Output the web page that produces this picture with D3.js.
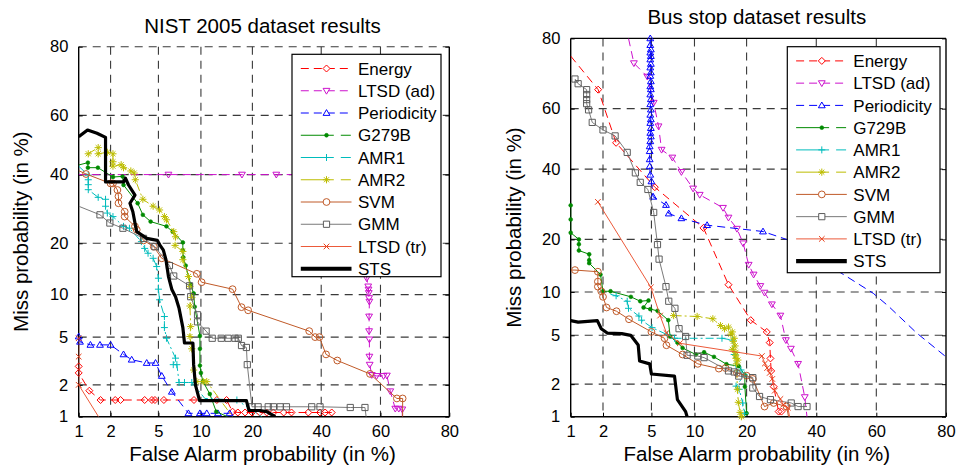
<!DOCTYPE html>
<html>
<head>
<meta charset="utf-8">
<script src="https://cdn.jsdelivr.net/npm/d3@7"></script>
<style>
  body { margin: 0; background: #fff; }
  svg { display: block; font-family: "Liberation Sans", Arial, Helvetica, sans-serif; }
</style>
</head>
<body>
<svg id="chart" width="959" height="468"></svg>
<script>
// ---- axis ticks (percent on a normal-deviate scale) ----
const tickPercents = [1, 2, 5, 10, 20, 40, 60, 80];
const tickLabels = ["1", "2", "5", "10", "20", "40", "60", "80"];

// ---- legend entries ----
const nistNames = ["Energy", "LTSD (ad)", "Periodicity", "G279B", "AMR1", "AMR2", "SVM", "GMM", "LTSD (tr)", "STS"];
const busNames  = ["Energy", "LTSD (ad)", "Periodicity", "G729B", "AMR1", "AMR2", "SVM", "GMM", "LTSD (tr)", "STS"];

// ---- NIST 2005 curves: [false alarm %, miss %, (0 = no marker)] ----
const nistEnergy = [[1,2.9],[1,2.55],[1.27,1.77],[1.62,1.45],[2.2,1.45],[2.45,1.45],[3.9,1.45],[4.45,1.45],[4.7,1.45],[5.5,1.45],[9,1.45],[12.6,1.45],[14.4,1.45],[15.6,1.12],[16.7,1.1],[18.3,1.1],[19.9,1.1],[21.8,1.1],[23.6,1.1],[25.4,1.1],[28.3,1.1],[30.6,1.1],[35.8,1.1],[39.6,1.1],[41.3,1.1],[43.5,1.1]];
const nistLtsdAd = [[1,40,0],[5.95,40],[17.6,40],[26.2,40],[45,40,0],[55,36,0],[55.3,14,0],[55.4,12.7],[55.9,11.3],[56,10.8],[56.1,10.25],[56.2,9.5],[56.3,9.0],[56.2,7.1],[56.2,5.55],[56.3,4.8],[56.3,3.5],[56.4,3.0],[57.1,2.45],[58.7,2.4],[61,2.4],[62.1,2.42],[63.2,1.75],[64.8,1.2],[65.9,1.2],[67,1.18],[67,1.0,0]];
const nistPeriodicity = [[1,5.05],[1.03,4.6],[1.3,4.35],[1.6,4.35],[2.0,4.35],[2.6,3.65],[3.05,3.3],[4.05,3.1],[4.75,3.1],[5.3,2.4],[6.3,1.73],[8.25,1.08],[9.85,1.08],[10.9,1.08],[12.8,1.08],[15,1.08]];
const nistG279B = [[1,43.2,0],[1.23,44],[1.23,42.3],[1.53,42.3],[2.1,39.2],[2.55,39.4],[2.6,36.6],[3.42,30.9],[3.77,27.5],[4.35,25.6],[5.75,24.3],[6.4,22.9],[7.55,20.2],[7.55,18.4],[7.6,16.8],[7.9,15.1],[8.55,11.6],[8.95,10.2],[9.1,8.3],[9.85,5.1],[9.85,4.05],[9.85,2.95],[10,2.55],[10.3,2.15],[11.4,1.65],[12.5,1.12],[14.6,1.0,0]];
const nistAmr1 = [[1,42.8,0],[1.24,39.8],[1.24,38.3],[1.24,36.7],[1.24,35.1],[1.54,32.7],[1.8,32.1],[1.8,30.0],[1.87,28.0],[2.1,27.0],[2.6,24.3],[2.92,23.8],[3.67,20.4],[3.9,18.8],[4.15,17.7],[4.55,16.6],[4.85,14.9],[5.0,12.7],[5.0,10.85],[5.1,9.25],[5.55,7.1],[5.55,5.9],[5.75,4.9],[6.7,3.4],[6.45,3.0],[6.85,3.0],[7.1,2.1],[7.75,2.1],[8.7,2.1],[10.6,1.5,0],[16.5,1.45],[22.3,1.0,0]];
const nistAmr2 = [[1.24,47.0],[1.54,49.1],[1.54,47.0],[1.87,47.5],[2.1,47.0],[2.1,44.3],[2.1,42.8],[2.48,43.3],[2.6,42.3],[3.0,41.2],[3.2,40.5],[3.27,38.3],[3.77,32.1],[4.55,30.0],[5.1,28.9],[5.55,27.0],[5.75,26.1],[6.5,22.9],[6.7,21.6],[6.65,19.5],[7.55,18.1],[7.55,16.3],[8.25,13.0],[8.45,11.3],[8.7,9.6],[8.45,8.4],[8.55,6.0],[8.45,5.05],[8.7,4.05],[8.95,2.7],[9.4,2.14],[10.35,2.14],[10.9,2.14],[15.6,1.0,0]];
const nistSvm = [[1,41.3,0],[1.18,40.2],[2.0,37.1],[2.1,37.1],[2.3,35.0],[2.35,33.0],[2.35,30.9],[2.66,28.4],[2.66,27.0],[3.25,24.3],[3.36,23.4],[3.82,20.7],[4.6,19.2],[5.3,16.6],[9.4,13.5],[10.1,12.0],[15.6,10.85],[17.5,8.25],[19.0,7.85],[36.1,5.55],[38.0,5.0],[39.4,5.0],[41.6,3.65],[45.4,3.25],[56.5,2.5],[65.3,1.5],[67.1,1.5],[67.1,1.0,0]];
const nistGmm = [[1,30.0,0],[1.6,27.5],[1.97,25.2],[2.57,23.8],[3.82,21.2],[4.7,19.2],[6.05,15.1],[6.5,13.1],[8.4,11.4],[8.55,9.7],[9.5,7.3],[9.5,6.5],[10.8,5.55],[11.8,4.9],[13.4,4.9],[14.7,4.9],[16.1,4.9],[16.8,4.9],[17.5,4.3],[18.6,4.15],[18.8,3.0],[19.9,1.25],[21.4,1.25],[24.0,1.25],[25.4,1.25],[27.3,1.25],[29.1,1.25],[36.9,1.25],[39.6,1.25],[49.8,1.23],[54.8,1.23],[55.2,1.0,0]];
const nistLtsdTr = [[1,4.9],[1,3.5],[1,2.0],[1.55,1.0,0]];
const nistSts = [[1,52.8],[1.22,55.1],[1.5,54],[1.8,52.6],[1.8,37.6],[2.6,37.6],[2.7,38.8],[2.87,36.6],[3.25,33.4],[2.95,30.9],[3.12,28.4],[3.25,25.2],[3.36,22.9],[4.05,21.2],[4.9,20.7],[5.15,19.5],[5.45,18.4],[5.7,16.3],[5.95,13.0],[6.3,10.8],[6.7,9.7],[7.1,8.1],[7.55,5.9],[7.75,4.5],[8.85,4.5],[8.95,3.0],[9.2,2.0],[9.8,1.43],[18.6,1.43],[19.2,1.15],[21.8,1.15],[23.6,1.12],[25.9,1.0]];

// ---- Bus stop curves ----
const busEnergy = [[1,75.6,0],[1.81,66.0],[2.6,48.7],[5.3,34.3],[11.4,22.8],[16.0,11.1],[21.0,6.45],[25.1,5.3],[25.9,4.4],[26.1,3.3],[26.3,2.6],[27.0,1.9],[28.4,1.12],[29.2,1.12]];
const busLtsdAd = [[3.3,80,0],[3.65,73.7],[4.65,69.9],[5.2,61.9],[5.65,54.2],[5.95,46.4],[7.1,43.8],[8.2,39.1],[9.8,33.9],[10.8,32.0],[14.9,28.2],[16.0,25.5],[17.8,22.6],[19.2,19.1],[20.5,14.6],[21.7,12.8],[23.4,10.9],[24.5,9.9],[26.5,8.3],[28.9,6.95],[30.5,4.6],[32.0,3.95],[34.2,2.98],[36.3,1.53],[37.0,1.0,0]];
const busPeriodicity = [[4.9,80],[4.9,78.4],[4.95,77.3],[4.9,76.5],[4.95,75.6],[4.9,74.7],[4.95,73.5],[4.9,72.5],[4.95,71.1],[4.9,70.1],[4.95,68.5],[4.9,67.0],[4.95,66.1],[4.9,64.5],[4.95,63.0],[4.9,61.4],[4.95,59.7],[4.9,58.0],[4.95,56.5],[4.9,55.3],[4.95,53.6],[4.9,52.0],[4.95,50.8],[4.9,49.2],[4.85,47.5],[4.85,45.9],[4.85,43.2],[4.85,40.9],[4.9,38.2],[5.0,36.1],[5.15,31.4],[6.4,29.0],[6.7,26.6],[8.2,25.3],[12.0,23.5],[24.1,21.9],[30.7,20.0,0],[50.0,12.5,0],[59.0,9.8,0],[63.8,8.1,0],[72.4,5.2,0],[80,3.4,0]];
const busG729B = [[1,28.9],[1,25.0],[1,21.6],[1.2,20.0],[1.2,18.9],[1.2,17.5],[1.5,16.7],[1.5,15.5],[1.5,14.9],[1.9,12.8],[2.0,10.1],[2.33,10.1],[3.45,9.3],[4.1,8.7],[4.75,8.8],[4.35,7.9],[4.9,7.7],[5.55,7.5],[6.65,6.45],[6.85,4.9],[7.7,4.4],[8.35,4.0],[10.2,3.55],[11.5,3.7],[13.2,3.4],[15.6,2.96],[18.2,2.85],[19.6,2.4],[19.6,1.9],[20,1.08]];
const busAmr1 = [[2.33,9.65,0],[2.6,9.45],[3.22,8.7],[3.3,7.8],[4.0,6.9],[4.2,6.45],[5.05,5.7],[6.55,5.05],[7.35,4.75],[14.7,4.75],[16.8,4.6],[17.2,3.55],[17.7,2.6],[18.7,2.65],[19.5,2.4],[17.6,1.92],[18.3,1.8],[19.1,1.35],[19.5,1.08],[19.6,1.0,0]];
const busAmr2 = [[7.25,6.95],[10.4,6.85],[13.0,6.6],[14.4,5.9],[15.2,5.6],[16.0,5.75],[16.5,5.1],[16.8,5.3],[17.2,4.75],[17.0,4.5],[17.4,4.15],[16.8,3.9],[17.6,3.7],[17.5,3.5],[17.6,3.3],[18.0,3.2],[17.7,2.98],[17.9,1.8],[18.1,1.37],[18.5,1.1],[18.8,1.0]];
const busSvm = [[1,13.6,0],[1.1,13.6],[1.8,13.3],[1.8,11.6],[1.8,10.8],[1.93,10.1],[2.0,9.3],[2.15,7.9],[2.62,7.45],[3.33,6.55],[5.0,5.3],[6.25,4.75],[6.45,4.2],[8.35,3.55],[10.5,2.98],[14.1,2.72],[15.4,2.75],[17.8,2.5],[20.0,2.37],[21.5,2.22],[24.5,1.25],[27.0,1.35],[30.7,1.25],[31.3,1.0,0]];
const busGmm = [[1.1,69.2],[1.18,67.8],[1.42,66.0],[1.42,64.5],[1.42,62.9],[1.42,61.6],[1.48,59.6],[1.6,55.5],[2.0,53.0],[2.55,51.0],[3.22,45.5],[3.75,38.8],[4.1,35.8],[4.7,33.6],[5.2,26.9],[5.55,18.8],[5.7,15.7],[6.4,10.8],[6.7,8.7],[7.4,7.8],[7.9,5.6],[8.75,4.9],[8.95,3.5],[10.5,3.45],[11.5,3.35],[16.0,2.6],[17.2,2.55],[18.2,2.35],[21.5,2.28],[21.5,1.85],[23.2,1.55],[26.1,1.45],[32.1,1.35],[34.2,1.25],[37.0,1.25]];
const busLtsdTr = [[1.8,29.9],[4.95,10.7],[5.8,6.95],[6.45,5.2],[8.0,4.35],[23.8,3.45],[24.6,3.0],[25.2,2.75],[25.9,2.5],[26.6,2.22],[27.3,1.75],[28.9,1.47],[29.7,1.3],[31.1,1.22],[31.6,1.0,0]];
const busSts = [[1,6.4],[1.18,6.25],[1.78,6.4],[1.93,5.6],[2.18,5.2],[2.9,5.15],[3.44,5.0],[3.95,4.22],[4.05,3.15],[4.85,2.98],[5.0,2.45],[7.35,2.35],[7.7,1.45],[8.3,1.25],[8.75,1.12],[8.95,1.0]];

// ---- drawing styles, one per legend entry ----
const styles = [
  { color: "#ff0000", marker: "diamond", dash: "8,5", legendDash: "8,5", width: 1 },
  { color: "#cc11cc", marker: "triDown", dash: "8,5", legendDash: "8,5", width: 1 },
  { color: "#0000ff", marker: "triUp",   dash: "8,5", legendDash: "8,5", width: 1 },
  { color: "#008a00", marker: "dot",     dash: null,  legendDash: "33,7,10,60", width: 1 },
  { color: "#00bcbc", marker: "plus",    dash: "8,3,2,3", legendDash: "33,7,10,60", width: 1 },
  { color: "#bdbd00", marker: "star",    dash: "8,3,2,3", legendDash: "33,7,10,60", width: 1 },
  { color: "#c05a28", marker: "circle",  dash: null,  legendDash: null, width: 1 },
  { color: "#5c5c5c", marker: "square",  dash: null,  legendDash: null, width: 1, line: "#7a7a7a" },
  { color: "#e8401c", marker: "cross",   dash: null,  legendDash: null, width: 1, line: "#ec5a3a" },
  { color: "#000000", marker: null,      dash: null,  legendDash: null, width: 3.2, legendWidth: 4.2 }
];

// inverse of the standard normal CDF (Acklam's rational approximation)
function probit(p) {
  const a = [-3.969683028665376e+01, 2.209460984245205e+02, -2.759285104469687e+02, 1.383577518672690e+02, -3.066479806614716e+01, 2.506628277459239e+00];
  const b = [-5.447609879822406e+01, 1.615858368580409e+02, -1.556989798598866e+02, 6.680131188771972e+01, -1.328068155288572e+01];
  const c = [-7.784894002430293e-03, -3.223964580411365e-01, -2.400758277161838e+00, -2.549732539343734e+00, 4.374664141464968e+00, 2.938163982698783e+00];
  const d = [7.784695709041462e-03, 3.224671290700398e-01, 2.445134137142996e+00, 3.754408661907416e+00];
  const pl = 0.02425, ph = 1 - pl;
  let q, r;
  if (p < pl) {
    q = Math.sqrt(-2 * Math.log(p));
    return (((((c[0]*q+c[1])*q+c[2])*q+c[3])*q+c[4])*q+c[5]) / ((((d[0]*q+d[1])*q+d[2])*q+d[3])*q+1);
  }
  if (p <= ph) {
    q = p - 0.5; r = q * q;
    return (((((a[0]*r+a[1])*r+a[2])*r+a[3])*r+a[4])*r+a[5])*q / (((((b[0]*r+b[1])*r+b[2])*r+b[3])*r+b[4])*r+1);
  }
  q = Math.sqrt(-2 * Math.log(1 - p));
  return -(((((c[0]*q+c[1])*q+c[2])*q+c[3])*q+c[4])*q+c[5]) / ((((d[0]*q+d[1])*q+d[2])*q+d[3])*q+1);
}

// marker shapes, centred on the origin
const markerPaths = {
  diamond: r => `M0,${-r}L${r},0L0,${r}L${-r},0Z`,
  triDown: r => `M${-r},${-r*0.7}L${r},${-r*0.7}L0,${r}Z`,
  triUp:   r => `M${-r},${r*0.7}L${r},${r*0.7}L0,${-r}Z`,
  circle:  r => `M${r},0A${r},${r} 0 1 1 ${-r},0A${r},${r} 0 1 1 ${r},0Z`,
  square:  r => `M${-r},${-r}H${r}V${r}H${-r}Z`,
  plus:    r => `M${-r},0H${r}M0,${-r}V${r}`,
  star:    r => { const k = r * 0.7; return `M${-r},0H${r}M0,${-r}V${r}M${-k},${-k}L${k},${k}M${k},${-k}L${-k},${k}`; },
  cross:   r => `M${-r},${-r}L${r},${r}M${r},${-r}L${-r},${r}`,
  dot:     r => `M${r},0A${r},${r} 0 1 1 ${-r},0A${r},${r} 0 1 1 ${r},0Z`
};
const markerSize = { diamond: 3.5, triDown: 3.4, triUp: 3.4, circle: 3.4, square: 3.1, plus: 3.5, star: 3.6, cross: 2.8, dot: 1.9 };

const panels = [
  {
    id: "nist", title: "NIST 2005 dataset results", names: nistNames,
    series: [nistEnergy, nistLtsdAd, nistPeriodicity, nistG279B, nistAmr1, nistAmr2, nistSvm, nistGmm, nistLtsdTr, nistSts],
    x0: 78.7, x1: 449.3, top: 46.7, bottom: 416.7, fullBox: false,
    titleY: 32.7, labelX: 28.2,
    legend: { x: 292, y: 54.3, w: 149, h: 222.4 }
  },
  {
    id: "bus", title: "Bus stop dataset results", names: busNames,
    series: [busEnergy, busLtsdAd, busPeriodicity, busG729B, busAmr1, busAmr2, busSvm, busGmm, busLtsdTr, busSts],
    x0: 570.7, x1: 946, top: 38.4, bottom: 416.7, fullBox: true,
    titleY: 24.3, labelX: 521,
    legend: { x: 787.3, y: 46.7, w: 152.7, h: 226 }
  }
];

const svg = d3.select("#chart");
const zLo = probit(0.01), zHi = probit(0.80);
const tickZ = tickPercents.map(p => probit(p / 100));

panels.forEach(P => {
  const xs = d3.scaleLinear().domain([zLo, zHi]).range([P.x0, P.x1]);
  const ys = d3.scaleLinear().domain([zLo, zHi]).range([P.bottom, P.top]);
  const X = v => xs(probit(v / 100));
  const Y = v => ys(probit(v / 100));
  const g = svg.append("g");
  const cx = (P.x0 + P.x1) / 2 - 1.5, cy = (P.top + P.bottom) / 2;

  // clip regions: lines stop at the frame, markers may overhang slightly
  const defs = svg.append("defs");
  defs.append("clipPath").attr("id", P.id + "-clip")
    .append("rect").attr("x", P.x0).attr("y", P.top).attr("width", P.x1 - P.x0).attr("height", P.bottom - P.top);
  defs.append("clipPath").attr("id", P.id + "-mclip")
    .append("rect").attr("x", P.x0 - 6).attr("y", P.top - 6).attr("width", P.x1 - P.x0 + 12).attr("height", P.bottom - P.top + 12);

  // dashed grid
  const inner = tickZ.filter((z, i) => i > 0 && i < tickZ.length - 1);
  const grid = g.append("g").attr("stroke", "#3a3a3a").attr("stroke-width", 1.1).attr("stroke-dasharray", "8,6");
  grid.selectAll("line.v").data(inner).join("line").attr("class", "v")
    .attr("x1", d => xs(d)).attr("x2", d => xs(d)).attr("y1", P.top).attr("y2", P.bottom);
  const hLines = P.fullBox ? inner : inner.concat([zHi]);
  grid.selectAll("line.h").data(hLines).join("line").attr("class", "h")
    .attr("y1", d => ys(d)).attr("y2", d => ys(d)).attr("x1", P.x0).attr("x2", P.x1);

  // axes
  const fmt = (d, i) => tickLabels[i];
  const xAxis = g.append("g").attr("transform", `translate(0,${P.bottom})`)
    .call(d3.axisBottom(xs).tickValues(tickZ).tickFormat(fmt).tickSizeInner(-4).tickSizeOuter(0).tickPadding(8.6));
  const yAxis = g.append("g").attr("transform", `translate(${P.x0},0)`)
    .call(d3.axisLeft(ys).tickValues(tickZ).tickFormat(fmt).tickSizeInner(-4).tickSizeOuter(0).tickPadding(10.4));
  g.append("g").attr("transform", `translate(${P.x1},0)`)
    .call(d3.axisRight(ys).tickValues(tickZ).tickFormat("").tickSizeInner(-4).tickSizeOuter(0));
  [xAxis, yAxis].forEach(a => {
    a.select(".domain").remove();
    a.selectAll("text").attr("font-size", null).style("font-size", "16.5px").attr("fill", "#000")
      .style("font-family", "'Liberation Sans', Arial, sans-serif");
    a.selectAll("line").attr("stroke", "#000");
  });
  g.selectAll(".domain").remove();

  // frame
  const frame = g.append("g").attr("stroke", "#000").attr("stroke-width", 1.4).attr("fill", "none");
  frame.append("line").attr("x1", P.x0).attr("x2", P.x0).attr("y1", P.top).attr("y2", P.bottom);
  frame.append("line").attr("x1", P.x0).attr("x2", P.x1).attr("y1", P.bottom).attr("y2", P.bottom);
  frame.append("line").attr("x1", P.x1).attr("x2", P.x1).attr("y1", P.top).attr("y2", P.bottom);
  if (P.fullBox) frame.append("line").attr("x1", P.x0).attr("x2", P.x1).attr("y1", P.top).attr("y2", P.top);

  // curves
  const line = d3.line().x(d => X(d[0])).y(d => Y(d[1]));
  const plot = g.append("g");
  P.series.forEach((pts, i) => {
    const s = styles[i];
    plot.append("path").datum(pts)
      .attr("clip-path", `url(#${P.id}-clip)`)
      .attr("d", line).attr("fill", "none")
      .attr("stroke", s.line || s.color).attr("stroke-width", s.width)
      .attr("stroke-linejoin", "round")
      .attr("stroke-dasharray", s.dash);
    if (s.marker) {
      const filled = s.marker === "dot";
      plot.append("g").attr("clip-path", `url(#${P.id}-mclip)`)
        .selectAll("path").data(pts.filter(d => d[2] !== 0)).join("path")
        .attr("transform", d => `translate(${X(d[0])},${Y(d[1])})`)
        .attr("d", markerPaths[s.marker](markerSize[s.marker]))
        .attr("fill", filled ? s.color : "none")
        .attr("stroke", s.color).attr("stroke-width", filled ? 0.6 : 1);
    }
  });

  // legend
  const L = P.legend;
  const lg = g.append("g");
  lg.append("rect").attr("x", L.x).attr("y", L.y).attr("width", L.w).attr("height", L.h)
    .attr("fill", "#fff").attr("stroke", "#000").attr("stroke-width", 1.2);
  P.names.forEach((name, i) => {
    const s = styles[i];
    const yy = L.y + 14.2 + i * 22.25;
    const lx0 = L.x + 8.8, lx1 = L.x + 59.5, mx = L.x + 34.5;
    lg.append("line").attr("x1", lx0).attr("x2", lx1).attr("y1", yy).attr("y2", yy)
      .attr("stroke", s.line || s.color).attr("stroke-width", s.legendWidth || s.width)
      .attr("stroke-dasharray", s.legendDash);
    if (s.marker) {
      const filled = s.marker === "dot";
      lg.append("path").attr("transform", `translate(${mx},${yy})`)
        .attr("d", markerPaths[s.marker](markerSize[s.marker]))
        .attr("fill", filled ? s.color : "#fff")
        .attr("stroke", s.color).attr("stroke-width", filled ? 0.6 : 1);
    }
    lg.append("text").attr("x", L.x + 66).attr("y", yy).attr("dy", "0.36em")
      .style("font-size", "17px").attr("fill", "#000").text(name);
  });

  // titles
  g.append("text").attr("x", cx).attr("y", P.titleY).attr("text-anchor", "middle")
    .style("font-size", "20.5px").attr("fill", "#000").text(P.title);
  g.append("text").attr("x", cx).attr("y", 460.5).attr("text-anchor", "middle")
    .style("font-size", "20.5px").attr("fill", "#000").text("False Alarm probability (in %)");
  g.append("text").attr("transform", `translate(${P.labelX},${cy}) rotate(-90)`).attr("text-anchor", "middle")
    .style("font-size", "20.5px").attr("fill", "#000").text("Miss probability (in %)");
});
</script>
</body>
</html>
